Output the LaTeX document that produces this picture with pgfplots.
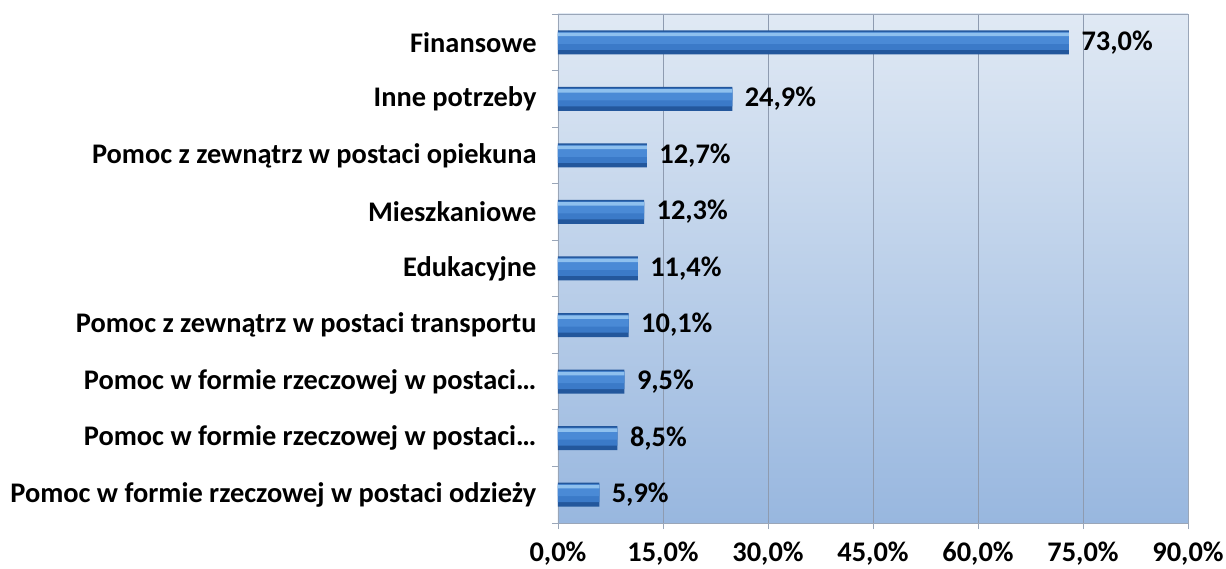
\documentclass[border=0pt]{standalone}
\usepackage{pgfplots}
\pgfplotsset{compat=1.18}
\usepackage{fontspec}
\setmainfont{Carlito}
\definecolor{bgtop}{HTML}{E0E9F4}
\definecolor{bgbot}{HTML}{98B7DF}
\definecolor{bA}{HTML}{23579C}
\definecolor{bB}{HTML}{3B7AC8}
\definecolor{bC}{HTML}{4A8AD6}
\definecolor{bE}{HTML}{8EC0EE}
\definecolor{gridc}{HTML}{8E9BB0}
\definecolor{axc}{HTML}{9AA6B8}
\newcommand{\lf}{\bfseries\fontsize{28.5}{31}\selectfont}
\newcommand{\ellip}{\char"2026}
\pgfplotstableread{
v c
5.9 0
8.5 1
9.5 2
10.1 3
11.4 4
12.3 5
12.7 6
24.9 7
73.0 8
}\data
\begin{document}
\begin{tikzpicture}
\begin{axis}[
  at={(0,0)}, anchor=south west,
  scale only axis,
  width=630bp, height=509bp,
  xbar,
  xmin=0, xmax=90,
  ymin=-0.5, ymax=8.5,
  xtick={0,15,30,45,60,75,90},
  xticklabels={{0,0\%},{15,0\%},{30,0\%},{45,0\%},{60,0\%},{75,0\%},{90,0\%}},
  ytick={-0.5,0.5,1.5,2.5,3.5,4.5,5.5,6.5,7.5,8.5},
  yticklabels={},
  extra y ticks={0,1,2,3,4,5,6,7,8},
  extra y tick labels={{Pomoc w formie rzeczowej w postaci odzieży},
    {Pomoc w formie rzeczowej w postaci\ellip},
    {Pomoc w formie rzeczowej w postaci\ellip},
    {Pomoc z zewnątrz w postaci transportu},
    {Edukacyjne}, {Mieszkaniowe},
    {Pomoc z zewnątrz w postaci opiekuna},
    {Inne potrzeby}, {Finansowe}},
  extra y tick style={major tick length=0pt},
  tick align=outside,
  major tick length=6bp,
  tick style={draw=axc, line width=0.8bp},
  xtick pos=bottom, ytick pos=left,
  xmajorgrids, ymajorgrids=false,
  major grid style={draw=gridc, line width=0.7bp},
  axis line style={draw=axc, line width=0.9bp},
  axis background/.style={top color=bgtop, bottom color=bgbot},
  xticklabel style={font=\lf, text=black, yshift=-9bp},
  yticklabel style={font=\lf, text=black, xshift=-18bp},
]
\addplot[draw=none, fill=bA, bar width=24bp, bar shift=0bp,
  nodes near coords={\pgfmathprintnumber[fixed,fixed zerofill,precision=1,use comma,assume math mode=true]{\pgfplotspointmeta}\%},
  every node near coord/.append style={font=\lf, text=black, xshift=9bp}]
  table[x=v,y=c] {\data};
\addplot[draw=none, fill=bB, bar width=18bp, bar shift=1.5bp] table[x=v,y=c] {\data};
\addplot[draw=none, fill=bC, bar width=10bp, bar shift=3.5bp] table[x=v,y=c] {\data};
\addplot[draw=none, fill=bE, bar width=3.5bp, bar shift=8bp] table[x=v,y=c] {\data};
\end{axis}
\pgfresetboundingbox
\path (-558bp,-46bp) rectangle (668bp,523bp);
\end{tikzpicture}
\end{document}
